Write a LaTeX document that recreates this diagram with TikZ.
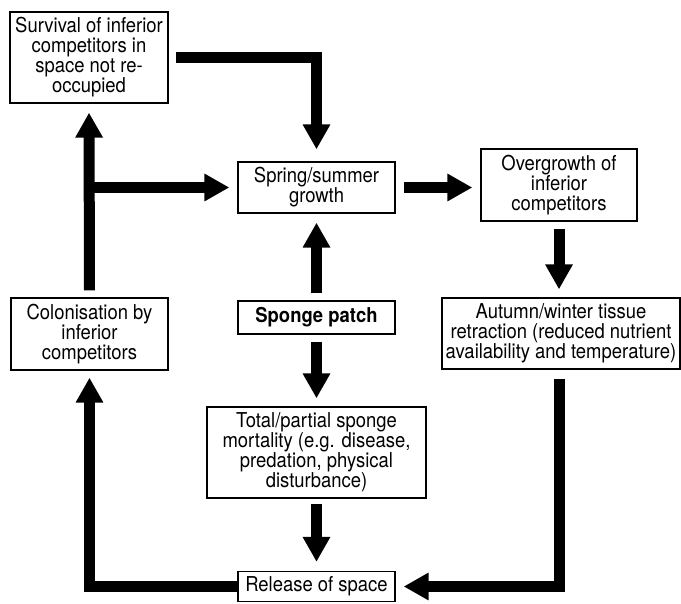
\documentclass[tikz,border=0pt]{standalone}
\usepackage{fontspec}
\setmainfont[FakeStretch=0.9]{TeX Gyre Heros}
\usetikzlibrary{arrows.meta,calc}
\begin{document}
\begin{tikzpicture}[x=1pt,y=-1pt,
  box/.style={draw=black,line width=1.3pt,inner sep=0pt,align=center,
    font=\fontsize{20.5}{20}\selectfont},
  bigarrow/.style={draw=black,line width=11pt,line join=miter,
    -{Triangle[length=25pt 0 0,width=26pt 0 0]}}]
\useasboundingbox (0,0) rectangle (681,604);
\node[box,minimum width=158pt,minimum height=91pt] (surv) at (89,57.5)
  {Survival of inferior\\competitors in\\space not re-\\occupied};
\node[box,minimum width=157pt,minimum height=51pt] (spring) at (316.5,187.5)
  {Spring/summer\\growth};
\node[box,minimum width=156pt,minimum height=72pt] (over) at (559,185)
  {Overgrowth of\\inferior\\competitors};
\node[box,minimum width=238pt,minimum height=71pt] (autumn) at (561,333.5)
  {Autumn/winter tissue\\retraction (reduced nutrient\\availability and temperature)};
\node[box,minimum width=157pt,minimum height=72pt] (colon) at (89.5,334)
  {Colonisation by\\inferior\\competitors};
\node[box,minimum width=157pt,minimum height=33pt] (sponge) at (316.5,317.5)
  {\bfseries Sponge patch};
\node[box,minimum width=219pt,minimum height=91pt] (total) at (316.5,452.5)
  {Total/partial sponge\\mortality (e.g. disease,\\predation, physical\\disturbance)};
\node[box,minimum width=157pt,minimum height=30pt] (release) at (316.5,586.5)
  {Release of space};
% connectors
\draw[bigarrow] ($(surv.east)+(7,0)$) -| ($(spring.north)+(0,-12)$);
\draw[bigarrow] ($(colon.north)+(0,-7)$) -- ($(surv.south)+(0,9)$);
\draw[bigarrow] (colon.north |- spring.west) -- ($(spring.west)+(-8,0)$);
\draw[bigarrow] ($(spring.east)+(8,0)$) -- ($(spring.east -| over.west)+(-8,0)$);
\draw[bigarrow] ($(over.south)+(0,7)$) -- ($(autumn.north -| over.south)+(0,-8)$);
\draw[bigarrow] ($(sponge.north)+(0,-7)$) -- ($(spring.south)+(0,9)$);
\draw[bigarrow] ($(sponge.south)+(0,7)$) -- ($(total.north)+(0,-8)$);
\draw[bigarrow] ($(total.south)+(0,5)$) -- ($(release.north)+(0,-9)$);
\draw[bigarrow] ($(over.south |- autumn.south)+(0,9)$) |- ($(release.east)+(8,0)$);
\draw[bigarrow] (release.west) -| ($(colon.south)+(0,7)$);
\end{tikzpicture}
\end{document}
